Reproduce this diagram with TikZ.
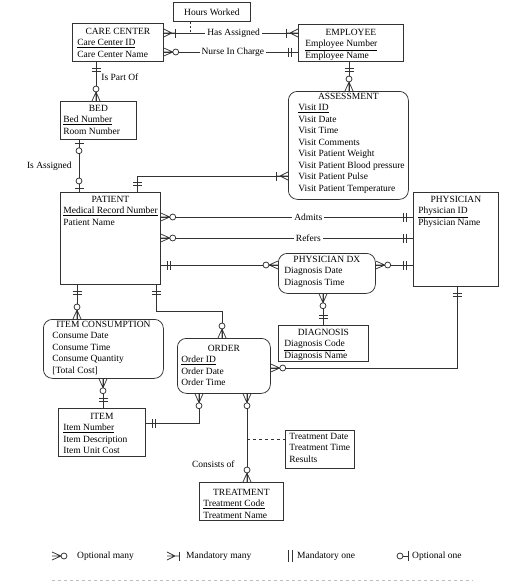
\documentclass[tikz,border=0pt]{standalone}
\usepackage{fontspec}
\setmainfont{Liberation Serif}
\newcommand{\entx}[6]{\parbox[t][#3pt][t]{#2pt}{\centering\rule{0pt}{#4pt}#5\par\raggedright\leftskip=#1pt #6}}
\tikzset{
  ln/.style={line width=0.75pt, draw=black!80},
  ent/.style={draw=black!80, line width=0.75pt, anchor=north west, inner sep=0pt},
  rent/.style={ent, rounded corners=9pt},
  lbl/.style={fill=white, inner sep=2pt},
  crowO/.pic={\draw[ln] (0,4)--(9,0)--(0,-4) (0,0)--(9,0); \draw[ln, fill=white] (12,0) circle[radius=3];},
  crowI/.pic={\draw[ln] (0,4)--(8,0)--(0,-4) (0,0)--(12,0); \draw[ln] (12,4.5)--(12,-4.5);},
  oneI/.pic={\draw[ln] (7,4.5)--(7,-4.5) (10,4.5)--(10,-4.5);},
  oneO/.pic={\draw[ln] (4,4.5)--(4,-4.5); \draw[ln, fill=white] (11,0) circle[radius=3];}
}
\begin{document}
\begin{tikzpicture}[x=1pt,y=-1pt,
  every node/.style={font=\fontsize{9.5}{11.5}\selectfont, text=black, inner sep=2pt}]
\useasboundingbox (0,0) rectangle (527,582);

% entities
\node[draw=black!80, line width=0.75pt, anchor=north west, minimum width=77pt, minimum height=19pt, inner sep=0pt] (hours) at (173,2) {Hours Worked};
\node[ent] (cc) at (72,23) {\entx{5}{91}{38}{11}{CARE CENTER}{\underline{Care Center ID}\\Care Center Name}};
\node[ent] (emp) at (298,24) {\entx{7}{105}{37}{11}{EMPLOYEE}{\underline{Employee Number}\\Employee Name}};
\node[ent] (bed) at (60,101) {\entx{3}{76}{38}{10}{BED}{\underline{Bed Number}\\Room Number}};
\node[rent] (assess) at (288,91) {\entx{10}{120}{108}{8}{ASSESSMENT}{\underline{Visit ID}\\Visit Date\\Visit Time\\Visit Comments\\Visit Patient Weight\\Visit Patient Blood pressure\\Visit Patient Pulse\\Visit Patient Temperature}};
\node[ent] (patient) at (60,192) {\entx{3}{100}{92}{10}{PATIENT}{\underline{Medical Record Number}\\Patient Name}};
\node[ent] (physician) at (413,192) {\entx{5}{85}{94}{10}{PHYSICIAN}{\underline{Physician ID}\\Physician Name}};
\node[rent] (pdx) at (278,253) {\entx{6}{97}{40}{9}{PHYSICIAN DX}{Diagnosis Date\\Diagnosis Time}};
\node[ent] (diag) at (278,325) {\entx{6}{90}{36}{10}{DIAGNOSIS}{\underline{Diagnosis Code}\\Diagnosis Name}};
\node[rent] (ic) at (43,319) {\entx{9}{120}{59}{8}{ITEM CONSUMPTION}{Consume Date\\Consume Time\\Consume Quantity\\{[}Total Cost{]}}};
\node[rent] (order) at (177,338) {\entx{4}{93}{55}{13}{ORDER}{\underline{Order ID}\\Order Date\\Order Time}};
\node[ent] (item) at (58,408) {\entx{5}{87}{48}{11}{ITEM}{\underline{Item Number}\\Item Description\\Item Unit Cost}};
\node[ent] (tattr) at (285,430) {\parbox[t][38pt][t]{69pt}{\raggedright\leftskip=4pt \rule{0pt}{9pt}Treatment Date\\Treatment Time\\Results}};
\node[ent] (treat) at (199,482) {\entx{4}{84}{38}{13}{TREATMENT}{\underline{Treatment Code}\\Treatment Name}};

% helper coordinates
\coordinate (yHA) at (0,33);
\coordinate (hw) at (190,33);
\coordinate (yNI) at (0,52);
\coordinate (xPO) at (96,0);
\coordinate (xIA) at (79,0);
\coordinate (ap) at (137,176);
\coordinate (xEA) at (349,0);
\coordinate (yAd) at (0,217);
\coordinate (yRe) at (0,238);
\coordinate (yDX) at (0,265);
\coordinate (xDD) at (323,0);
\coordinate (pho) at (457,368);
\coordinate (xPaO) at (156,0);
\coordinate (pao) at (222,311);
\coordinate (xPI) at (77,0);
\coordinate (xII) at (103,0);
\coordinate (io) at (199,423);
\coordinate (xOT) at (247,0);
\coordinate (tw) at (247,439);

% Has Assigned
\draw[ln] (cc.east|-yHA) -- node[lbl,pos=0.52] (lHA) {Has Assigned} (emp.west|-yHA);
\draw[ln, dash pattern=on 2pt off 2pt] (hours.south-|hw) -- (hw);
\pic at (cc.east|-yHA) {crowI};
\pic[rotate=180] at (emp.west|-yHA) {crowI};
% Nurse In Charge
\draw[ln] (cc.east|-yNI) -- node[lbl,pos=0.515] (lNI) {Nurse In Charge} (emp.west|-yNI);
\pic at (cc.east|-yNI) {crowO};
\pic[rotate=180] at (emp.west|-yNI) {oneI};
% Is Part Of
\draw[ln] (cc.south-|xPO) -- node[pos=0.4, right=3pt] (lPO) {Is Part Of} (bed.north-|xPO);
\pic[rotate=-90] at (cc.south-|xPO) {oneI};
\pic[rotate=90] at (bed.north-|xPO) {crowO};
% Is Assigned
\draw[ln] (bed.south-|xIA) -- node[pos=0.5, left=5pt] (lIA) {Is Assigned} (patient.north-|xIA);
\pic[rotate=-90] at (bed.south-|xIA) {oneO};
\pic[rotate=90] at (patient.north-|xIA) {oneO};
% Assessment - Patient
\draw[ln] (assess.west|-ap) -| (patient.north-|ap);
\pic[rotate=180] at (assess.west|-ap) {crowI};
\pic[rotate=90] at (patient.north-|ap) {oneI};
% Employee - Assessment
\draw[ln] (emp.south-|xEA) -- (assess.north-|xEA);
\pic[rotate=-90] at (emp.south-|xEA) {oneI};
\pic[rotate=90] at (assess.north-|xEA) {crowO};
% Admits
\draw[ln] (patient.east|-yAd) -- node[lbl,pos=0.585] (lAd) {Admits} (physician.west|-yAd);
\pic at (patient.east|-yAd) {crowO};
\pic[rotate=180] at (physician.west|-yAd) {oneI};
% Refers
\draw[ln] (patient.east|-yRe) -- node[lbl,pos=0.585] (lRe) {Refers} (physician.west|-yRe);
\pic at (patient.east|-yRe) {crowO};
\pic[rotate=180] at (physician.west|-yRe) {oneI};
% Patient - Physician DX
\draw[ln] (patient.east|-yDX) -- (pdx.west|-yDX);
\pic at (patient.east|-yDX) {oneI};
\pic[rotate=180] at (pdx.west|-yDX) {crowO};
% Physician DX - Physician
\draw[ln] (pdx.east|-yDX) -- (physician.west|-yDX);
\pic at (pdx.east|-yDX) {crowO};
\pic[rotate=180] at (physician.west|-yDX) {oneI};
% Physician DX - Diagnosis
\draw[ln] (pdx.south-|xDD) -- (diag.north-|xDD);
\pic[rotate=-90] at (pdx.south-|xDD) {crowO};
\pic[rotate=90] at (diag.north-|xDD) {oneI};
% Physician - Order
\draw[ln] (physician.south-|pho) |- (order.east|-pho);
\pic[rotate=-90] at (physician.south-|pho) {oneI};
\pic at (order.east|-pho) {crowO};
% Patient - Order
\draw[ln] (patient.south-|xPaO) |- (pao) -- (order.north-|pao);
\pic[rotate=-90] at (patient.south-|xPaO) {oneI};
\pic[rotate=90] at (order.north-|pao) {crowO};
% Patient - Item Consumption
\draw[ln] (patient.south-|xPI) -- (ic.north-|xPI);
\pic[rotate=-90] at (patient.south-|xPI) {oneI};
\pic[rotate=90] at (ic.north-|xPI) {crowO};
% Item Consumption - Item
\draw[ln] (ic.south-|xII) -- (item.north-|xII);
\pic[rotate=-90] at (ic.south-|xII) {crowO};
\pic[rotate=90] at (item.north-|xII) {oneI};
% Item - Order
\draw[ln] (item.east|-io) -| (order.south-|io);
\pic at (item.east|-io) {oneI};
\pic[rotate=-90] at (order.south-|io) {crowO};
% Order - Treatment
\draw[ln] (order.south-|xOT) -- node[pos=0.8, left=10pt] (lCO) {Consists of} (treat.north-|xOT);
\draw[ln, dash pattern=on 3pt off 3pt] (tw) -- (tattr.west|-tw);
\pic[rotate=-90] at (order.south-|xOT) {crowO};
\pic[rotate=90] at (treat.north-|xOT) {crowO};

% legend
\pic at (52,556) {crowO};
\node[anchor=west] (lg1) at (75,556) {Optional many};
\pic at (167,556) {crowI};
\node[anchor=west] (lg2) at (184,556) {Mandatory many};
\draw[ln] (288,550) -- (288,562) (292,550) -- (292,562);
\node[anchor=west] (lg3) at (295,556) {Mandatory one};
\draw[ln, fill=white] (400,556) circle[radius=3];
\draw[ln] (403,556) -- (408,556) (408,551) -- (408,561);
\node[anchor=west] (lg4) at (410,556) {Optional one};
\draw[gray!50, line width=0.6pt, dash pattern=on 3pt off 3pt] (52,580) -- (473,580);
\end{tikzpicture}
\end{document}
